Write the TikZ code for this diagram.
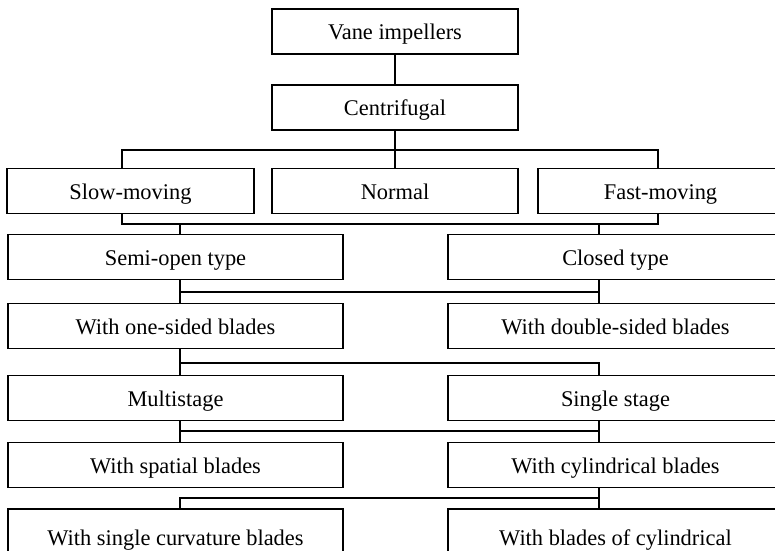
\documentclass[tikz,border=0pt]{standalone}
\usepackage{fontspec}
\setmainfont{Liberation Serif}
\begin{document}
\begin{tikzpicture}[x=1bp,y=-1bp,
  box/.style={draw=black, line width=1.3bp, rectangle, inner sep=0pt,
    font=\fontsize{22.5}{26}\selectfont, text height=17.4bp, text depth=0.8bp,
    minimum height=45bp},
  wbox/.style={box, minimum width=246bp},
  lbox/.style={box, minimum width=335bp},
  link/.style={draw=black, line width=1.3bp}]
\useasboundingbox (0,0) rectangle (775,551);
\begin{scope}
\clip (0,0) rectangle (775,551);
% nodes
\node[wbox] (vane)   at (395,31.5)  {Vane impellers};
\node[wbox] (cent)   at (395,107.5) {Centrifugal};
\node[wbox, minimum width=247bp] (slow) at (130.5,191) {Slow-moving};
\node[wbox] (normal) at (395,191)   {Normal};
\node[wbox, minimum width=245bp] (fast) at (660.5,191) {Fast-moving};
\node[lbox] (semi)   at (175.5,257) {Semi-open type};
\node[lbox] (closed) at (615.5,257) {Closed type};
\node[lbox] (one)    at (175.5,326) {With one-sided blades};
\node[lbox] (double) at (615.5,326) {With double-sided blades};
\node[lbox] (multi)  at (175.5,398) {Multistage};
\node[lbox] (single) at (615.5,398) {Single stage};
\node[lbox] (spatial) at (175.5,465) {With spatial blades};
\node[lbox] (cyl)    at (615.5,465) {With cylindrical blades};
\node[lbox, minimum height=57bp] (curv)   at (175.5,537.5) {With single curvature blades};
\node[lbox, minimum height=57bp] (blades) at (615.5,537.5) {With blades of cylindrical};
% bus coordinates
\coordinate (XL) at (122,150);
\coordinate (XR) at (658,150);
\coordinate (XS) at (180,0);
\coordinate (XC) at (599,0);
\coordinate (B1) at (0,224);
\coordinate (B2) at (0,292);
\coordinate (B3) at (0,363);
\coordinate (B4) at (0,431);
\coordinate (B5) at (0,498);
% connectors
\draw[link] (vane) -- (cent);
\draw[link] (cent) -- (normal);
\draw[link] (slow.north -| XL) -- (XL) -- (XR) -- (fast.north -| XR);
\draw[link] (slow.south -| XL) -- (XL |- B1) -- (XR |- B1) -- (fast.south -| XR);
\draw[link] (XS |- B1) -- (semi.north -| XS);
\draw[link] (XC |- B1) -- (closed.north -| XC);
\draw[link] (semi.south -| XS) -- (one.north -| XS);
\draw[link] (closed.south -| XC) -- (double.north -| XC);
\draw[link] (XS |- B2) -- (XC |- B2);
\draw[link] (one.south -| XS) -- (multi.north -| XS);
\draw[link] (XS |- B3) -- (XC |- B3) -- (single.north -| XC);
\draw[link] (multi.south -| XS) -- (spatial.north -| XS);
\draw[link] (single.south -| XC) -- (cyl.north -| XC);
\draw[link] (XS |- B4) -- (XC |- B4);
\draw[link] (cyl.south -| XC) -- (blades.north -| XC);
\draw[link] (XC |- B5) -- (XS |- B5) -- (curv.north -| XS);
\end{scope}
\end{tikzpicture}
\end{document}
